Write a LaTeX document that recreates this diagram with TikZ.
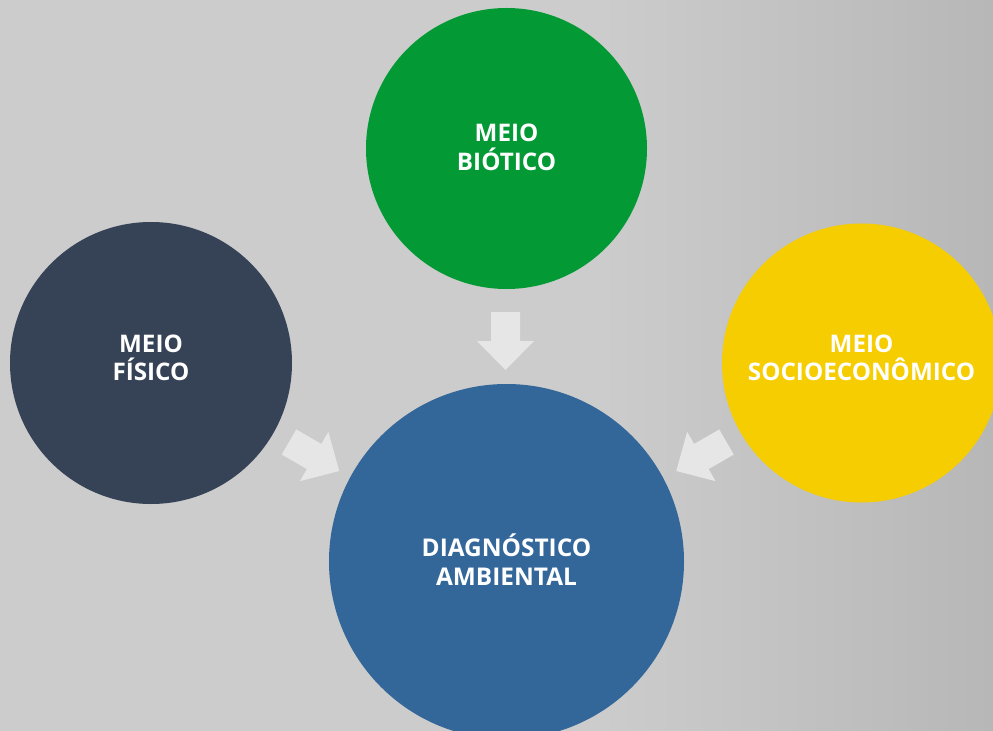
\documentclass[tikz,border=0pt]{standalone}
\usepackage{fontspec}
\setmainfont{Open Sans}
\definecolor{bgL}{RGB}{204,204,204}
\definecolor{bgR}{RGB}{183,183,183}
\definecolor{cGreen}{RGB}{3,154,54}
\definecolor{cDark}{RGB}{54,67,86}
\definecolor{cBlue}{RGB}{51,102,153}
\definecolor{cYellow}{RGB}{245,205,0}
\definecolor{cArrow}{RGB}{230,230,230}
\tikzset{
  bubble/.style={circle, inner sep=0pt},
  bubbletext/.style={inner sep=0pt, text=white, align=center,
    font=\fontsize{24.3}{28.5}\selectfont\bfseries},
  blockarrow/.style={fill=cArrow, draw=none}
}
\newcommand{\blockarrowpath}{(0,-14.5) -- (29,-14.5) -- (29,-28.5) -- (58,0) -- (29,28.5) -- (29,14.5) -- (0,14.5) -- cycle}
\begin{document}
\begin{tikzpicture}[x=1bp,y=-1bp]
\useasboundingbox (0,0) rectangle (993,731);
\clip (0,0) rectangle (993,731);
\fill[bgL] (0,0) rectangle (601,731);
\shade[left color=bgL, right color=bgR] (600,0) rectangle (993,731);

\node[bubble, fill=cGreen, minimum size=281bp] (bio) at (506.5,148.5) {};
\node[bubble, fill=cDark, minimum size=282bp] (fis) at (151,363) {};
\node[bubble, fill=cYellow, minimum size=279bp] (soc) at (861.5,363) {};
\node[bubble, fill=cBlue, minimum size=355bp] (diag) at (506.5,561.5) {};

\node[bubbletext, yshift=1bp] (biot) at (bio.center) {MEIO\\BIÓTICO};
\node[bubbletext, yshift=5bp] (fist) at (fis.center) {MEIO\\FÍSICO};
\node[bubbletext, yshift=5bp] (soct) at (soc.center) {MEIO\\SOCIOECONÔMICO};
\node[bubbletext, yshift=2bp, font=\fontsize{24.5}{29.5}\selectfont\bfseries] (diagt) at (diag.center) {DIAGNÓSTICO\\AMBIENTAL};

\begin{scope}[shift={(505.5,312)}, rotate=-90]
  \fill[blockarrow] \blockarrowpath;
\end{scope}
\begin{scope}[shift={(289,442)}, rotate=-30]
  \fill[blockarrow] \blockarrowpath;
\end{scope}
\begin{scope}[shift={(726.5,442)}, rotate=-150]
  \fill[blockarrow] \blockarrowpath;
\end{scope}
\end{tikzpicture}
\end{document}
